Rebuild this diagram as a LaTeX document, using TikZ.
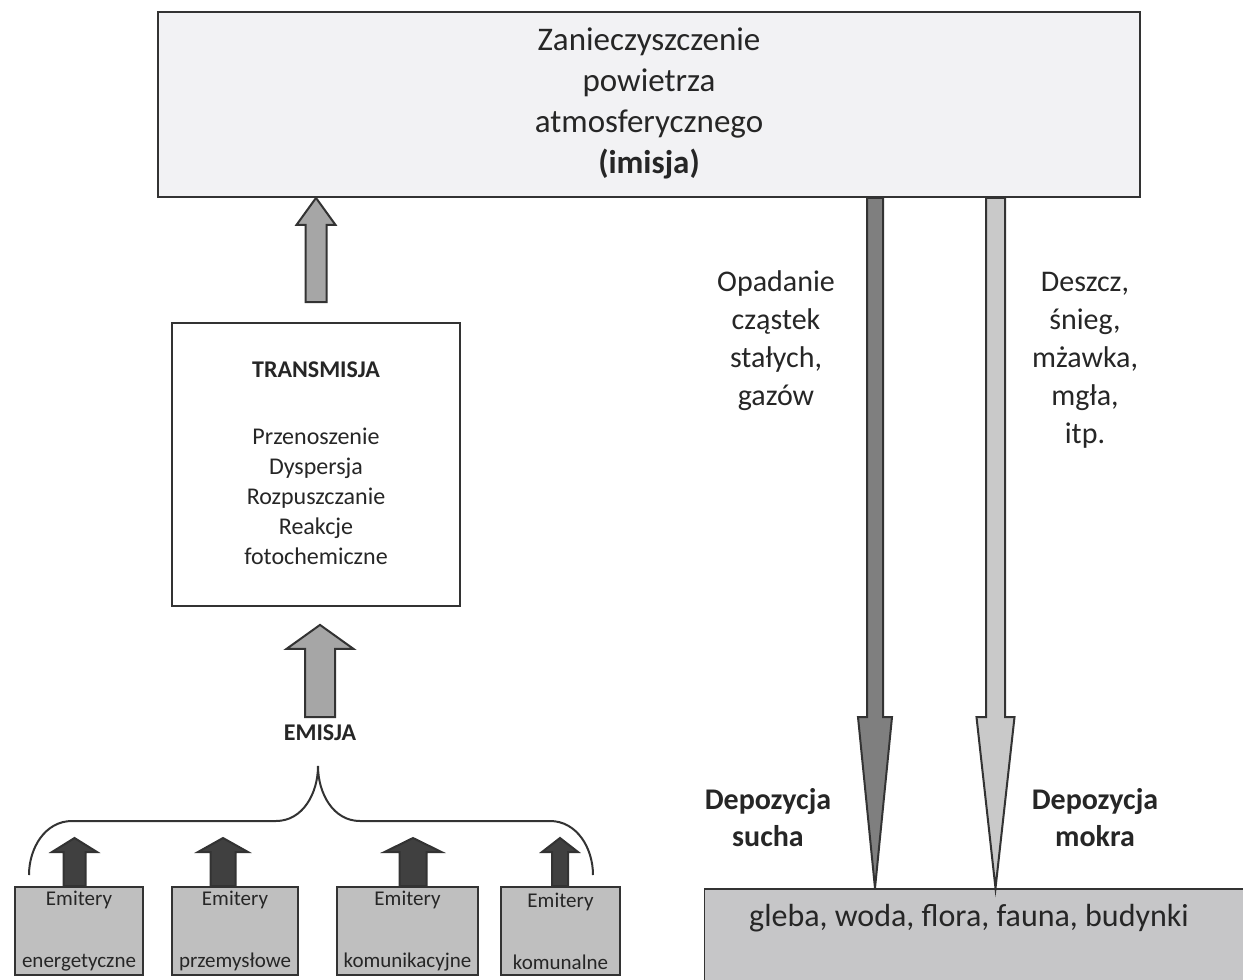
\documentclass[tikz,border=0pt]{standalone}
\usepackage{fontspec}
\setmainfont{Carlito}
\usetikzlibrary{calc}

\definecolor{ink}{HTML}{262626}
\definecolor{edge}{HTML}{333333}
\definecolor{skyfill}{HTML}{F2F2F4}
\definecolor{srcfill}{HTML}{BFBFBF}
\definecolor{groundfill}{HTML}{C6C6C8}
\definecolor{darkarrow}{HTML}{404040}
\definecolor{midarrow}{HTML}{A6A6A6}
\definecolor{dryarrow}{HTML}{7F7F7F}
\definecolor{wetarrow}{HTML}{C9C9C9}

% block arrow: from, to, shaft half width, head half width, head length, fill
\newcommand{\blockarrow}[6]{%
  \draw[draw=edge, line width=1pt, fill=#6] let \p1=(#1), \p2=(#2), \p3=($(#2)!#5!(#1)$) in
    (\x1-#3,\y1) -- (\x1-#3,\y3) -- (\x1-#4,\y3) -- (\x2,\y2)
    -- (\x1+#4,\y3) -- (\x1+#3,\y3) -- (\x1+#3,\y1) -- cycle;}

\begin{document}
\begin{tikzpicture}[x=0.5pt,y=-0.5pt, text=ink,
	box/.style={draw=edge, line width=0.9pt, inner sep=0pt, align=center},
	srcbox/.style={box, fill=srcfill, minimum height=44pt, font=\fontsize{10.5}{31}\selectfont},
	big/.style={align=center, font=\fontsize{15}{19}\selectfont},
	bigbold/.style={align=center, font=\fontsize{15}{18.5}\selectfont\bfseries}]
	\clip (0,0) rectangle (1243,980);
	
	\node[box, fill=skyfill, minimum width=491pt, minimum height=92.5pt,
		font=\fontsize{16.5}{20.5}\selectfont] (top) at (649,104.5)
		{Zanieczyszczenie\\powietrza\\atmosferycznego\\\textbf{(imisja)}\\[-16.5pt]\mbox{}};
	
	\node[box, fill=white, minimum width=144pt, minimum height=141.5pt,
		font=\fontsize{12}{15}\selectfont] (trans) at (316,464.5)
		{\mbox{}\\[-8pt]\textbf{TRANSMISJA}\\[18.5pt]Przenoszenie\\Dyspersja\\Rozpuszczanie\\Reakcje\\fotochemiczne};
	
	\node[font=\fontsize{12}{15}\selectfont\bfseries] (emis) at (320,733) {EMISJA};
	
	\node[srcbox, minimum width=64pt] (e1) at (79,931) {Emitery\\energetyczne};
	\node[srcbox, minimum width=63pt] (e2) at (235,931) {Emitery\\przemysłowe};
	\node[srcbox, minimum width=70.5pt] (e3) at (407.5,931) {Emitery\\komunikacyjne};
	\node[srcbox, minimum width=59.5pt] (e4) at (560.5,931) {Emitery\\komunalne};
	
	\node[box, fill=groundfill, minimum width=279pt, minimum height=55.5pt] (ground) at (983.5,944.5) {};
	\node[font=\fontsize{16}{19}\selectfont] (groundtxt) at (969,918) {gleba, woda, flora, fauna, budynki};
	
	\node[big] (fall) at (776,341) {Opadanie\\cząstek\\stałych,\\gazów};
	\node[big] (rain) at (1085,360.5) {Deszcz,\\śnieg,\\mżawka,\\mgła,\\itp.};
	\node[bigbold] (dry) at (768,817.5) {Depozycja\\sucha};
	\node[bigbold] (wet) at (1095,817.5) {Depozycja\\mokra};
	
	% upward flow
	\coordinate (a1) at ($(trans.north)+(0,-20)$);
	\coordinate (a2) at (trans.north |- top.south);
	\blockarrow{a1}{a2}{5.25pt}{9.75pt}{13.5pt}{midarrow}
	\coordinate (b1) at ($(emis.center)+(0,-16)$);
	\coordinate (b2) at ($(emis.center |- trans.south)+(0,18)$);
	\blockarrow{b1}{b2}{7.5pt}{16.75pt}{12pt}{midarrow}
	
	\foreach \e/\xt/\sw/\hw in {e1/74.5/5.5pt/11.25pt, e2/223/6.25pt/12.5pt, e3/413/6.75pt/14.25pt, e4/560/4pt/9pt}{
		\coordinate (tip\e) at (\xt,838);
		\coordinate (base\e) at (tip\e |- \e.north);
		\blockarrow{base\e}{tip\e}{\sw}{\hw}{7pt}{darkarrow}
	}
	
	\draw[line width=1pt, edge] (29,875) to[out=90,in=180] (72,821) -- (276,821)
		to[out=0,in=-90] (318,766) to[out=-90,in=180] (360,821) -- (550,821)
		to[out=0,in=90] (593,875);
	
	% deposition
	\coordinate (dx) at (875,0);
	\coordinate (wx) at (995.5,0);
	\coordinate (d1) at (dx |- top.south);
	\coordinate (d2) at (dx |- ground.north);
	\coordinate (w1) at (wx |- top.south);
	\coordinate (w2) at (wx |- ground.north);
	\blockarrow{d1}{d2}{4pt}{8.5pt}{85.5pt}{dryarrow}
	\blockarrow{w1}{w2}{4.75pt}{9.5pt}{85.5pt}{wetarrow}
\end{tikzpicture}
\end{document}
